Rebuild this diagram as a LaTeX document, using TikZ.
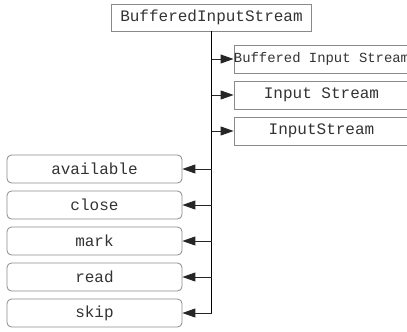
\documentclass[tikz,border=0pt]{standalone}
\usepackage{fontspec}
\newfontfamily\monofont{Liberation Mono}
\usetikzlibrary{arrows.meta}
\definecolor{boxline}{HTML}{8A8A8A}
\definecolor{txt}{HTML}{333333}
\tikzset{
  classbox/.style={draw=boxline, line width=0.8pt, rectangle, inner sep=0pt,
    text=txt, font=\monofont\fontsize{16}{18}\selectfont},
  membox/.style={classbox, rounded corners=4.5pt, minimum width=175pt, minimum height=28pt},
  parentbox/.style={classbox, minimum width=175pt, minimum height=28pt},
  spine/.style={line width=1.6pt, black},
  branch/.style={line width=1pt, black!85, -{Triangle[length=13pt,width=9pt]}}
}
\begin{document}
\begin{tikzpicture}[x=1pt, y=-1pt]
  \path[use as bounding box, clip] (0,0) rectangle (407,332);

  % class under inspection
  \node[classbox, minimum width=200pt, minimum height=27pt] (top) at (211.5,17.5) {BufferedInputStream};

  % supertypes on the right (running past the page edge)
  \node[parentbox, font=\monofont\fontsize{13.9}{16}\selectfont] (r1) at (321.5,59) {Buffered Input Stream};
  \node[parentbox] (r2) at (321.5,95) {Input Stream};
  \node[parentbox] (r3) at (321.5,131) {InputStream};

  % members on the left
  \node[membox] (m1) at (94.5,169) {available};
  \node[membox] (m2) at (94.5,205) {close};
  \node[membox] (m3) at (94.5,241) {mark};
  \node[membox] (m4) at (94.5,277) {read};
  \node[membox] (m5) at (94.5,313) {skip};

  % spine coordinates
  \coordinate (s1) at (r1.west -| top.south);
  \coordinate (s2) at (r2.west -| top.south);
  \coordinate (s3) at (r3.west -| top.south);
  \coordinate (t1) at (m1.east -| top.south);
  \coordinate (t2) at (m2.east -| top.south);
  \coordinate (t3) at (m3.east -| top.south);
  \coordinate (t4) at (m4.east -| top.south);
  \coordinate (t5) at (m5.east -| top.south);

  \draw[spine] (top.south) -- (t5);

  \draw[branch] (s1) -- (r1.west);
  \draw[branch] (s2) -- (r2.west);
  \draw[branch] (s3) -- (r3.west);
  \draw[branch] (t1) -- (m1.east);
  \draw[branch] (t2) -- (m2.east);
  \draw[branch] (t3) -- (m3.east);
  \draw[branch] (t4) -- (m4.east);
  \draw[branch] (t5) -- (m5.east);
\end{tikzpicture}
\end{document}
